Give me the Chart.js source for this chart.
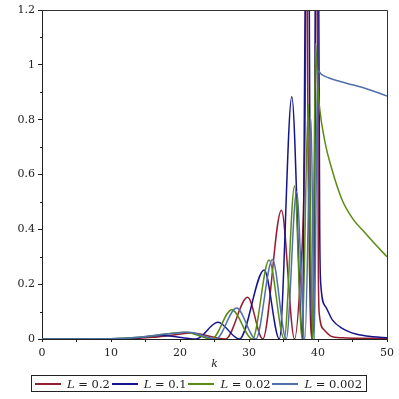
<!DOCTYPE html>
<html><head><meta charset="utf-8">
<script src="https://cdn.jsdelivr.net/npm/chart.js@4"></script>
<style>
html,body{margin:0;padding:0;background:#fff;}
#wrap{position:relative;width:399px;height:399px;overflow:hidden;}
canvas{position:absolute;left:0;top:0;}
#legend{position:absolute;left:31px;top:375px;width:336px;height:17px;border:1px solid #222;box-sizing:border-box;display:flex;align-items:center;justify-content:space-between;padding:0 4px 0 3px;font-family:'DejaVu Serif',serif;font-size:11.5px;color:#222;white-space:nowrap;}
.item{display:flex;align-items:center;}
.sw{display:inline-block;width:26px;height:0;border-top:2px solid;margin-right:6px;}
</style></head>
<body><div id="wrap"><canvas id="c" width="399" height="399"></canvas><div id="legend"></div></div>
<script>
// Series names
const seriesNames = ['0.2', '0.1', '0.02', '0.002'];
const seriesColors = ['#961e32', '#16168c', '#5a8c14', '#5070aa'];

// L = 0.2
const kRed = [0, 12, 16, 19, 21.7, 26.6, 29.8, 32.0, 34.7, 36.6, 37.5, 38.0, 38.25, 38.35, 38.45, 38.7, 39.1, 39.5, 39.7, 39.8, 39.9, 40.05, 40.2, 40.9, 42.1, 44, 50];
const vRed = [0, 0.001, 0.006, 0.015, 0.022, 0, 0.152, 0, 0.47, 0, 0.25, 0.6, 1.5, 4, 1.5, 0.4, 0, 0.6, 1.5, 4, 1.5, 0.25, 0.088, 0.033, 0.008, 0.004, 0.002];

// L = 0.1
const kBlue = [0, 10, 14, 17.5, 22.3, 25.5, 28.6, 32.2, 34.4, 36.2, 37.8, 38.15, 38.44, 38.73, 39.25, 39.6, 39.85, 40.1, 40.25, 40.4, 41.1, 42.1, 43.5, 45.5, 48, 50];
const vBlue = [0, 0.001, 0.005, 0.013, 0, 0.061, 0, 0.252, 0, 0.884, 0, 1.3, 5, 1.3, 0, 1.3, 5, 1.3, 0.4, 0.2, 0.118, 0.069, 0.039, 0.018, 0.008, 0.005];

// L = 0.02
const kGreen = [0, 10, 14, 18, 20.8, 24.6, 27.5, 30.5, 32.9, 35.1, 36.6, 37.7, 38.6, 39.2, 39.65, 39.9, 40.2, 41.0, 42.0, 43.5, 45.0, 46.9, 48.5, 50];
const vGreen = [0, 0.001, 0.006, 0.018, 0.025, 0, 0.107, 0, 0.288, 0, 0.558, 0, 0.856, 0, 1.078, 0.95, 0.85, 0.72, 0.62, 0.507, 0.44, 0.385, 0.34, 0.30];

// L = 0.002
const kLight = [0, 10, 14, 18, 21.3, 25.2, 28.2, 31.0, 33.4, 35.4, 36.9, 38.1, 39.0, 39.45, 39.75, 39.95, 40.5, 41.6, 43.1, 45, 46.9, 48.5, 50];
const vLight = [0, 0.001, 0.006, 0.018, 0.025, 0, 0.113, 0, 0.29, 0, 0.537, 0, 0.80, 0, 0.6, 0.98, 0.965, 0.952, 0.94, 0.927, 0.914, 0.90, 0.886];

// Axis ticks
const xTickLabels = [0, 10, 20, 30, 40, 50];
const yTickLabels = [0, 0.2, 0.4, 0.6, 0.8, 1, 1.2];

const pts = (ks, vs) => ks.map((k, i) => ({x: k, y: vs[i]}));
const allK = [kRed, kBlue, kGreen, kLight];
const allV = [vRed, vBlue, vGreen, vLight];

const datasets = seriesNames.map((n, i) => ({
  label: 'L = ' + n,
  data: pts(allK[i], allV[i]),
  borderColor: seriesColors[i],
  backgroundColor: seriesColors[i],
  order: 4 - i
}));

const serif = "'DejaVu Serif', serif";

const framePlugin = {
  id: 'frame',
  afterDraw(chart) {
    const {ctx, chartArea: a, scales} = chart;
    ctx.save();
    ctx.strokeStyle = '#333';
    ctx.lineWidth = 1;
    ctx.beginPath();
    ctx.moveTo(a.left, a.top + 0.5); ctx.lineTo(a.right + 0.5, a.top + 0.5);
    ctx.lineTo(a.right + 0.5, a.bottom);
    ctx.stroke();
    // minor y ticks
    ctx.strokeStyle = '#222';
    ctx.beginPath();
    for (let v = 0.1; v < 1.2; v += 0.2) {
      const y = Math.round(scales.y.getPixelForValue(v)) + 0.5;
      ctx.moveTo(a.left - 2, y); ctx.lineTo(a.left, y);
    }
    ctx.stroke();
    ctx.restore();
  }
};

new Chart(document.getElementById('c'), {
  type: 'line',
  data: {datasets},
  options: {
    responsive: false,
    animation: false,
    devicePixelRatio: 1,
    layout: {padding: {left: 0, right: 10, top: 10, bottom: 28}},
    elements: {point: {radius: 0}, line: {borderWidth: 1.5, cubicInterpolationMode: 'monotone'}},
    plugins: {legend: {display: false}, tooltip: {enabled: false}},
    scales: {
      x: {
        type: 'linear', min: 0, max: 50,
        ticks: {stepSize: 5, autoSkip: false, maxRotation: 0, padding: 5, color: '#222',
          font: {family: serif, size: 11},
          callback: v => xTickLabels.includes(v) ? String(v) : ''},
        grid: {display: true, drawOnChartArea: false, tickLength: 3, tickColor: '#222'},
        border: {color: '#222', width: 1},
        title: {display: true, text: 'k', color: '#222', padding: {top: 0, bottom: 0},
          font: {family: serif, size: 11, style: 'italic'}},
        afterFit: s => { s.height = 32; }
      },
      y: {
        min: 0, max: 1.2,
        ticks: {stepSize: 0.2, padding: 3, color: '#222', font: {family: serif, size: 11},
          callback: v => { const r = +v.toFixed(1); return yTickLabels.includes(r) ? String(r) : ''; }},
        grid: {display: true, drawOnChartArea: false, tickLength: 4, tickColor: '#222'},
        border: {color: '#222', width: 1},
        afterFit: s => { s.width = 42; }
      }
    }
  },
  plugins: [framePlugin]
});

// HTML legend
const leg = document.getElementById('legend');
seriesNames.forEach((n, i) => {
  const it = document.createElement('span');
  it.className = 'item';
  it.innerHTML = '<span class="sw" style="border-color:' + seriesColors[i] + '"></span><i>L</i>&nbsp;=&nbsp;' + n;
  leg.appendChild(it);
});
</script>
</body></html>
